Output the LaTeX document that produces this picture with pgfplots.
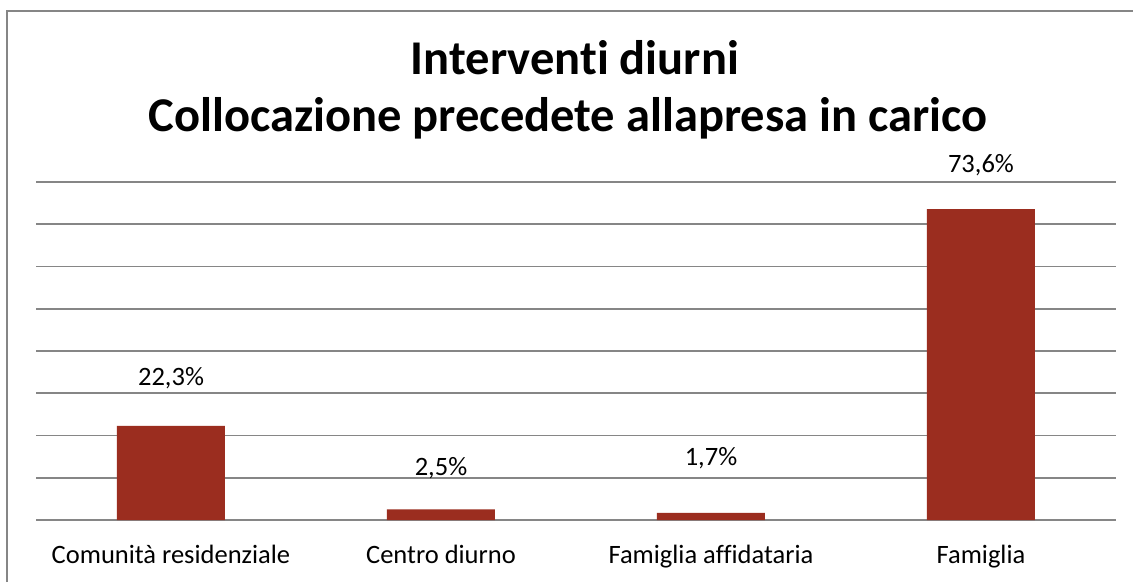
\documentclass[border=0pt]{standalone}
\usepackage{pgfplots}
\pgfplotsset{compat=1.18}
\usepackage{fontspec}
\setmainfont[Ligatures=NoCommon]{Carlito}
\definecolor{barred}{RGB}{155,45,31}
\definecolor{gridgray}{RGB}{134,134,134}
\begin{document}
\begin{tikzpicture}[x=1pt,y=1pt]
\useasboundingbox (0,0) rectangle (1133,582);
\fill[white] (0,0) rectangle (1133,582);
\begin{axis}[
  at={(36pt,62pt)}, anchor=south west,
  scale only axis, width=1080pt, height=338pt,
  xmin=-0.5, xmax=3.5, ymin=0, ymax=80,
  xtick={0,1,2,3},
  xticklabels={Comunità residenziale, Centro diurno, Famiglia affidataria, Famiglia},
  xticklabel style={anchor=base, yshift=-43pt, font=\fontsize{26.5}{30}\selectfont},
  ytick={0,10,...,80}, yticklabels={},
  major tick length=0pt,
  axis line style={draw=none},
  ymajorgrids, grid style={gridgray, line width=1.6pt},
  clip=false,
]
\addplot[ybar, bar width=108pt, bar shift=0pt, fill=barred, draw=none]
  coordinates {(0,22.3) (1,2.5) (2,1.7) (3,73.6)};
\addplot[draw=none, mark=none, nodes near coords={\pgfplotspointmeta},
  point meta=explicit symbolic,
  nodes near coords style={anchor=center, font=\fontsize{26.5}{30}\selectfont}]
  coordinates {(0,33.6) [22,3\%] (1,12.3) [2,5\%] (2,14.7) [1,7\%] (3,84.0) [73,6\%]};
\end{axis}
\draw[gridgray, line width=1.6pt] (7,0) -- (7,571) -- (1133,571);
\node[anchor=base, font=\bfseries\fontsize{48.5}{56}\selectfont] at (575,507) {Interventi diurni};
\node[anchor=base, font=\bfseries\fontsize{48.5}{56}\selectfont] at (568,450) {Collocazione precedete allapresa in carico};
\end{tikzpicture}
\end{document}
